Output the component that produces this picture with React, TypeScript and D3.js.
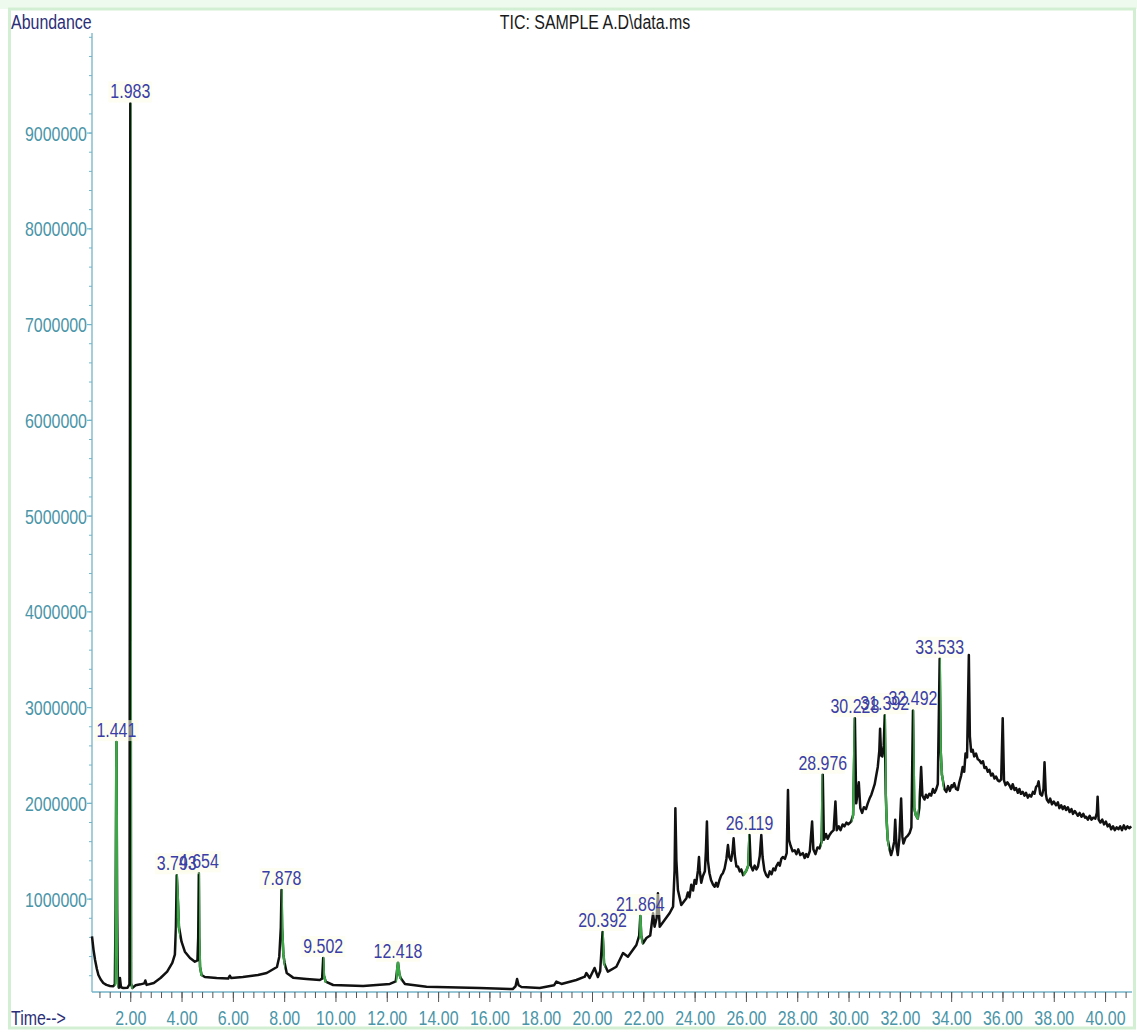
import React from 'react';
import * as d3 from 'd3';

const WIDTH = 1137;
const HEIGHT = 1035;

const chartTitle = 'TIC: SAMPLE A.D\\data.ms';
const yAxisTitle = 'Abundance';
const xAxisTitle = 'Time-->';

// Total ion chromatogram: [retention time (min), abundance (thousand counts)]
const traceEarly: [number, number][] = [
  [0.49, 610], [0.55, 470], [0.61, 364], [0.68, 270], [0.74, 208], [0.83, 160], [0.93, 124],
  [1.05, 104], [1.19, 93], [1.32, 90], [1.38, 110], [1.41, 900], [1.441, 2640], [1.47, 900],
  [1.5, 120], [1.54, 75], [1.58, 176], [1.62, 80], [1.71, 72], [1.87, 74], [1.95, 110],
  [1.983, 9310], [2.01, 120], [2.06, 72], [2.19, 100], [2.38, 110], [2.53, 120], [2.57, 150],
  [2.62, 104], [2.9, 124], [3.16, 176], [3.42, 242], [3.62, 333], [3.72, 420], [3.76, 700],
  [3.793, 1250], [3.82, 1100], [3.88, 712], [3.98, 555], [4.11, 451], [4.31, 385], [4.5, 346],
  [4.6, 360], [4.63, 600], [4.654, 1270], [4.67, 600], [4.7, 294], [4.76, 208], [4.89, 187],
  [5.35, 176], [5.8, 170], [5.86, 200], [5.92, 175], [6.37, 187], [6.96, 208], [7.3, 228],
  [7.7, 291], [7.79, 399], [7.85, 700], [7.878, 1095], [7.9, 700], [7.95, 420], [8.0, 333],
  [8.08, 228], [8.33, 180], [8.85, 166], [9.37, 155], [9.46, 170], [9.502, 385], [9.53, 200],
  [9.6, 138], [9.89, 103], [11.06, 93], [12.1, 114], [12.33, 140], [12.418, 336], [12.47, 220],
  [12.52, 176], [12.69, 114], [13.53, 85], [15.6, 72], [16.89, 61], [17.0, 90], [17.06, 166],
  [17.12, 100], [17.23, 82], [17.94, 72], [18.5, 100], [18.59, 138], [18.79, 114], [19.37, 155],
  [19.7, 190], [19.76, 228], [19.89, 176], [20.08, 281], [20.21, 187], [20.3, 250],
  [20.392, 657], [20.45, 330], [20.6, 242], [20.93, 294], [21.19, 437], [21.38, 399],
  [21.71, 521], [21.82, 620], [21.864, 824], [21.9, 620], [21.97, 538], [22.1, 594],
  [22.25, 620], [22.36, 852], [22.42, 712], [22.5, 800], [22.55, 1060], [22.62, 712],
  [22.81, 782], [23.01, 855], [23.14, 921], [23.2, 1300], [23.23, 1950], [23.27, 1400],
  [23.33, 1095], [23.46, 939], [23.66, 1010],
];

const traceMiddle: [number, number][] = [
  [23.72, 1070], [23.78, 1020], [23.85, 1150], [23.92, 1090], [23.98, 1200], [24.04, 1160],
  [24.11, 1300], [24.15, 1440], [24.18, 1300], [24.24, 1170], [24.3, 1240], [24.38, 1290],
  [24.42, 1500], [24.46, 1810], [24.5, 1400], [24.56, 1270], [24.62, 1200], [24.7, 1150],
  [24.76, 1130], [24.82, 1170], [24.88, 1130], [24.95, 1200], [25.02, 1250], [25.08, 1270],
  [25.15, 1320], [25.22, 1420], [25.28, 1565], [25.33, 1440], [25.4, 1400], [25.46, 1500],
  [25.5, 1635], [25.55, 1450], [25.61, 1340], [25.67, 1340], [25.74, 1290], [25.8, 1310],
  [25.87, 1250], [25.93, 1270], [26.0, 1300], [26.07, 1350], [26.119, 1670], [26.17, 1350],
  [26.25, 1300], [26.32, 1350], [26.39, 1310], [26.45, 1340], [26.52, 1450], [26.58, 1670],
  [26.63, 1440], [26.7, 1300], [26.77, 1250], [26.84, 1230], [26.91, 1290], [26.98, 1260],
  [27.05, 1320], [27.12, 1300], [27.16, 1340], [27.24, 1380], [27.3, 1350], [27.36, 1420],
  [27.42, 1440], [27.5, 1420], [27.57, 1480], [27.62, 2140], [27.66, 1620], [27.72, 1560],
  [27.8, 1500], [27.88, 1510], [27.95, 1470], [28.02, 1520], [28.1, 1460], [28.2, 1480],
  [28.27, 1430], [28.33, 1470], [28.39, 1440], [28.47, 1500], [28.56, 1810], [28.61, 1520],
  [28.69, 1470], [28.77, 1540], [28.85, 1530], [28.93, 1600], [28.976, 2300], [29.02, 1620],
  [29.1, 1680], [29.17, 1630], [29.24, 1670], [29.32, 1700], [29.4, 1720], [29.47, 2020],
  [29.52, 1720], [29.6, 1760], [29.67, 1720], [29.75, 1780], [29.82, 1760], [29.9, 1800],
  [29.97, 1780], [30.08, 1810], [30.16, 1880], [30.228, 2890], [30.28, 2000], [30.33, 2100],
  [30.38, 2220], [30.44, 1950], [30.51, 1900], [30.58, 1960], [30.66, 1940], [30.73, 2000],
  [30.8, 2050], [30.87, 2090], [30.93, 2140], [31.0, 2200], [31.06, 2290], [31.12, 2380],
  [31.18, 2550], [31.21, 2780], [31.25, 2500], [31.3, 2490], [31.35, 2600], [31.392, 2920],
  [31.43, 2100], [31.47, 1800], [31.51, 1620], [31.55, 1565], [31.6, 1500], [31.64, 1460],
  [31.7, 1520], [31.76, 1600], [31.8, 1830], [31.85, 1550], [31.9, 1460], [31.96, 1620],
  [32.03, 2050], [32.08, 1650], [32.12, 1580], [32.2, 1640], [32.28, 1660], [32.36, 1690],
  [32.43, 1750], [32.492, 2970], [32.54, 1950], [32.6, 1880], [32.68, 1840], [32.74, 1950],
  [32.81, 2380], [32.86, 2080], [32.94, 2040], [33.0, 2090], [33.06, 2060], [33.13, 2100],
  [33.2, 2080], [33.27, 2150], [33.33, 2110], [33.39, 2140], [33.46, 2200], [33.533, 3510],
  [33.57, 2560], [33.62, 2300], [33.66, 2240], [33.72, 2150], [33.79, 2120], [33.86, 2180],
  [33.93, 2130], [34.0, 2190], [34.04, 2170], [34.1, 2210], [34.17, 2150], [34.24, 2140],
  [34.3, 2220], [34.37, 2290], [34.43, 2380], [34.49, 2330], [34.54, 2520], [34.6, 2480],
];

const traceLate: [number, number][] = [
  [34.67, 3550], [34.71, 2700], [34.76, 2540], [34.82, 2560], [34.88, 2490], [34.95, 2520],
  [35.02, 2460], [35.08, 2450], [35.15, 2420], [35.22, 2440], [35.28, 2370], [35.34, 2380],
  [35.41, 2330], [35.47, 2350], [35.54, 2290], [35.6, 2310], [35.67, 2260], [35.73, 2280],
  [35.8, 2240], [35.86, 2230], [35.93, 2250], [35.99, 2890], [36.04, 2240], [36.1, 2190],
  [36.17, 2220], [36.25, 2190], [36.32, 2150], [36.38, 2200], [36.45, 2140], [36.51, 2160],
  [36.58, 2110], [36.64, 2150], [36.7, 2100], [36.77, 2120], [36.84, 2080], [36.9, 2110],
  [36.97, 2060], [37.03, 2090], [37.1, 2070], [37.17, 2120], [37.23, 2100], [37.29, 2170],
  [37.35, 2190], [37.39, 2230], [37.45, 2100], [37.52, 2080], [37.58, 2150], [37.62, 2430],
  [37.67, 2100], [37.71, 2040], [37.78, 2010], [37.84, 2050], [37.91, 1990], [37.98, 2020],
  [38.07, 1980], [38.14, 2010], [38.2, 1950], [38.27, 1980], [38.33, 1940], [38.4, 1970],
  [38.46, 1930], [38.53, 1960], [38.6, 1910], [38.67, 1940], [38.73, 1890], [38.8, 1920],
  [38.85, 1900], [38.92, 1870], [38.99, 1900], [39.06, 1860], [39.13, 1890], [39.2, 1850],
  [39.24, 1860], [39.31, 1830], [39.38, 1870], [39.45, 1830], [39.52, 1850], [39.6, 1840],
  [39.66, 1900], [39.69, 2070], [39.73, 1830], [39.8, 1800], [39.87, 1830], [39.94, 1780],
  [40.01, 1810], [40.08, 1760], [40.15, 1780], [40.22, 1730], [40.29, 1760], [40.36, 1720],
  [40.43, 1750], [40.5, 1730], [40.57, 1760], [40.64, 1720], [40.71, 1770], [40.78, 1730],
  [40.85, 1760], [40.92, 1740], [41.0, 1760],
];

// Retention times of the integrated peaks that carry a label
const labeledPeaks = [
  1.441, 1.983, 3.793, 4.654, 7.878, 9.502, 12.418, 20.392, 21.864,
  26.119, 28.976, 30.228, 31.392, 32.492, 33.533,
];

// Integration start/end stretches drawn in green
const integrationSpans: [number, number][] = [
  [1.37, 1.51], [2.01, 2.08], [3.79, 3.92], [4.66, 4.8], [7.88, 8.01], [9.5, 9.63],
  [12.33, 12.55], [20.4, 20.5], [21.82, 21.96], [25.88, 26.1], [28.9, 28.97],
  [30.1, 30.22], [31.4, 31.56], [32.5, 32.72], [33.54, 33.7],
];

const xMajorTicks = [2, 4, 6, 8, 10, 12, 14, 16, 18, 20, 22, 24, 26, 28, 30, 32, 34, 36, 38, 40];
const yMajorTicks = [1000000, 2000000, 3000000, 4000000, 5000000, 6000000, 7000000, 8000000, 9000000];

const FONT = "'Liberation Sans', Arial, sans-serif";
const FONT_SIZE = 21;
const NARROW = 0.76;
const AXIS_COLOR = '#74b4c8';
const TICK_TEXT = '#4a95a8';
const TITLE_BLUE = '#2c2f78';
const PEAK_BLUE = '#3a3ea6';
const GREEN = '#3aa845';

type TxtProps = {
  x: number;
  y: number;
  fill: string;
  anchor?: 'start' | 'middle' | 'end';
  dy?: string;
  children: React.ReactNode;
};

// Condensed instrument-style lettering
function Txt({ x, y, fill, anchor = 'start', dy, children }: TxtProps) {
  return (
    <g transform={`translate(${x},${y}) scale(${NARROW},1)`}>
      <text x={0} y={0} dy={dy} fontSize={FONT_SIZE} fill={fill} textAnchor={anchor}>
        {children}
      </text>
    </g>
  );
}

export default function App() {
  const plot = { left: 92, right: 1132, top: 33, bottom: 992 };
  const x = d3.scaleLinear().domain([0.49, 41.03]).range([plot.left, plot.right]);
  const y = d3.scaleLinear().domain([30000, 10045000]).range([plot.bottom, plot.top]);

  const trace = [...traceEarly, ...traceMiddle, ...traceLate];
  const line = d3
    .line<[number, number]>()
    .x((d) => x(d[0]))
    .y((d) => y(d[1] * 1000));
  const pathD = line(trace) || '';

  const minorX = d3.range(2, 103).map((k) => k * 0.4).filter((t) => t >= 0.49 && t <= 41.03);
  const minorY = d3.range(1, 51).map((k) => k * 200000);

  const peakLabels = labeledPeaks
    .map((rt) => {
      const pt = trace.find((p) => p[0] === rt);
      return pt ? { rt, px: x(rt), py: y(pt[1] * 1000) - 5 } : null;
    })
    .filter((d): d is { rt: number; px: number; py: number } => d !== null);

  return (
    <svg
      width={WIDTH}
      height={HEIGHT}
      style={{ position: 'absolute', left: 0, top: 0, background: '#fff' }}
      fontFamily={FONT}
    >
      <defs>
        <clipPath id="integration-clip">
          {integrationSpans.map(([a, b], i) => (
            <rect key={i} x={x(a)} y={0} width={x(b) - x(a)} height={HEIGHT} />
          ))}
        </clipPath>
      </defs>

      {/* window frame */}
      <rect x={0} y={0} width={WIDTH} height={9} fill="#eefaee" />
      <rect x={9.5} y={9} width={1125} height={1019} fill="none" stroke="#d3efd3" strokeWidth={3} />

      {/* titles */}
      <Txt x={11} y={29} fill={TITLE_BLUE}>{yAxisTitle}</Txt>
      <Txt x={595} y={29} fill="#1a1a1a" anchor="middle">{chartTitle}</Txt>
      <Txt x={11} y={1025} fill={TITLE_BLUE}>{xAxisTitle}</Txt>

      {/* y axis */}
      <line x1={plot.left} x2={plot.left} y1={plot.top} y2={plot.bottom} stroke={AXIS_COLOR} strokeWidth={1.3} />
      {minorY.map((v) => (
        <line key={v} x1={plot.left - 3} x2={plot.left} y1={y(v)} y2={y(v)} stroke={AXIS_COLOR} strokeWidth={1} />
      ))}
      {yMajorTicks.map((v) => (
        <g key={v}>
          <line x1={plot.left - 5} x2={plot.left} y1={y(v)} y2={y(v)} stroke={AXIS_COLOR} strokeWidth={1.2} />
          <Txt x={plot.left - 5} y={y(v)} dy="0.36em" fill={TICK_TEXT} anchor="end">
            {String(v)}
          </Txt>
        </g>
      ))}

      {/* x axis */}
      <line x1={plot.left} x2={plot.right} y1={plot.bottom} y2={plot.bottom} stroke={AXIS_COLOR} strokeWidth={1.3} />
      {minorX.map((t) => (
        <line key={t} x1={x(t)} x2={x(t)} y1={plot.bottom} y2={plot.bottom + 6} stroke="#555" strokeWidth={1} />
      ))}
      {xMajorTicks.map((t) => (
        <g key={t}>
          <line x1={x(t)} x2={x(t)} y1={plot.bottom} y2={plot.bottom + 10} stroke="#555" strokeWidth={1} />
          <Txt x={x(t)} y={1025} fill={TICK_TEXT} anchor="middle">
            {t.toFixed(2)}
          </Txt>
        </g>
      ))}

      {/* chromatogram trace */}
      <path d={pathD} fill="none" stroke="#111" strokeWidth={2.5} strokeLinejoin="round" />
      <path d={pathD} fill="none" stroke={GREEN} strokeWidth={2.5} strokeLinejoin="round" clipPath="url(#integration-clip)" />

      {/* peak retention time labels */}
      {peakLabels.map(({ rt, px, py }) => (
        <rect key={`bg-${rt}`} x={px - 22} y={py - 17} width={44} height={21} fill="#fbfbe6" opacity={0.55} />
      ))}
      {peakLabels.map(({ rt, px, py }) => (
        <Txt key={rt} x={px} y={py} fill={PEAK_BLUE} anchor="middle">
          {rt.toFixed(3)}
        </Txt>
      ))}
    </svg>
  );
}
